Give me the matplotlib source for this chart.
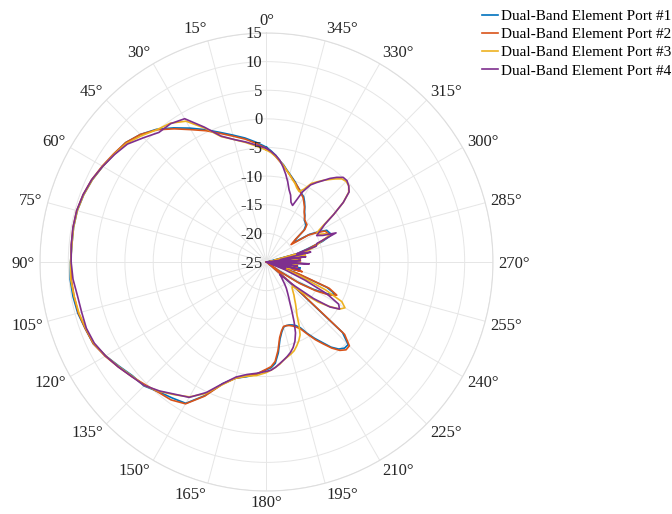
import numpy as np
import matplotlib
matplotlib.use("Agg")
import matplotlib.pyplot as plt

plt.rcParams['font.family'] = ['Liberation Serif', 'DejaVu Serif']

# Angles (degrees): 0..175 every 5, 180..357.5 every 2.5
angles_left = list(range(0, 180, 5))
angles_right = [180 + 2.5 * i for i in range(72)]

port1_left = [-4.95, -4.0, -3.0, -2.05, -0.9, 0.5, 2.0, 3.6, 5.25, 6.5, 7.45, 7.85,
              8.4, 8.95, 9.35, 9.6, 9.6, 9.5, 9.6, 9.8, 9.7, 9.5, 9.05, 8.75,
              7.8, 6.75, 5.9, 5.6, 4.6, 4.0, 3.5, 0.75, -2.4, -4.0, -4.65, -5.3]
port1_right = [-6.2, -6.5, -7.25, -9.0, -11.3, -12.5, -13.25, -13.35,
               -13.3, -13.1, -12.75, -12.05, -10.6, -9.2, -7.85, -6.25, -5.15, -4.6, -4.6, -6.8,
               -21.5, -24.5, -22.5, -18.5, -15.5, -13, -11.5, -13.5, -19.5, -25, -19.5, -25,
               -19, -25, -20.5, -25, -19.5, -25, -20.5, -25, -19.5, -24.5, -19.5, -17.5,
               -14.5, -12.5, -12.8, -13, -14.5, -16, -19, -18.5,
               -16.35, -15.6, -15.3, -15.1, -14.45, -13.95, -13.2, -12.5, -11.85, -11.55, -11.1, -10.7,
               -10.15, -9.65, -9.1, -8.5, -7.75, -7.15, -6.3, -5.6]

port2_left = [-5.15, -4.2, -3.2, -2.25, -1.1, 0.3, 1.7, 3.4, 5.15, 6.5, 7.45, 7.95,
              8.5, 9.05, 9.45, 9.7, 9.7, 9.6, 9.5, 9.6, 9.5, 9.4, 9.05, 8.75,
              7.9, 6.95, 6.1, 5.3, 4.7, 4.4, 3.6, 0.85, -2.3, -4.0, -4.75, -5.4]
port2_right = [-6.3, -6.7, -7.55, -9.4, -11.6, -12.7, -13.35, -13.35,
               -13.2, -12.9, -12.45, -11.75, -10.4, -8.9, -7.55, -6.05, -4.85, -4.2, -4.3, -6.3,
               -20.5, -25, -22, -18, -15, -12.5, -11.3, -13, -19, -25, -18.5, -25,
               -19.5, -25, -21, -25, -20, -25, -19, -25, -20.5, -23.5, -19, -17,
               -15, -12.8, -13.1, -13.3, -14.7, -16.3, -19.7, -18.7,
               -16.15, -15.3, -15.2, -15.0, -14.55, -14.05, -13.3, -12.7, -12.05, -11.65, -11.2, -10.7,
               -10.25, -9.75, -9.2, -8.6, -7.85, -7.25, -6.5, -5.8]

port3_left = [-5.45, -4.7, -3.8, -2.85, -1.7, 0.8, 3.4, 4.6, 5.15, 6.2, 7.25, 7.85,
              8.4, 8.95, 9.35, 9.6, 9.6, 9.5, 9.6, 9.7, 9.5, 9.3, 8.95, 8.65,
              7.8, 6.85, 6.0, 5.5, 4.5, 3.3, 2.2, 0.35, -2.2, -4.0, -4.75, -5.1]
port3_right = [-5.7, -6.1, -6.55, -7.0, -7.6, -8.0, -8.35, -8.75,
               -9.4, -10.1, -10.95, -12.55, -14.2, -15.2, -16.05, -16.85, -17.45, -18.1, -18.6, -18.8,
               -16.5, -13.5, -11.5, -9.7, -9, -10, -13.5, -18.5, -22.5, -25, -20.5, -25,
               -20, -25, -19.5, -25, -19, -25, -19.5, -24.5, -18, -23.5, -17.5, -16,
               -15, -13, -13.3, -14.5, -14.7, -13.1, -10.5, -7.9,
               -6.05, -5.3, -5.1, -5.3, -6.05, -6.85, -7.6, -8.4, -9.15, -10.65, -11.4, -11.0,
               -10.35, -9.85, -9.2, -8.6, -7.85, -7.15, -6.5, -5.9]

port4_left = [-5.15, -4.5, -3.7, -2.85, -1.6, 1.0, 3.9, 4.5, 4.55, 5.7, 7.05, 7.75,
              8.4, 9.05, 9.45, 9.7, 9.7, 9.6, 9.5, 9.3, 8.9, 8.8, 8.85, 8.55,
              7.8, 6.95, 6.1, 5.5, 4.4, 3.2, 2.3, 0.15, -2.4, -4.2, -5.05, -5.5]
port4_right = [-5.9, -6.1, -6.55, -7.1, -7.6, -8.1, -8.65, -9.35,
               -10.3, -11.6, -13.45, -15.25, -16.7, -17.7, -18.55, -19.25, -20.05, -20.8, -21.3, -21.8,
               -18.5, -14.5, -11.3, -9.7, -10.3, -13, -17.5, -21.5, -25, -21.5, -25, -19,
               -25, -19.5, -25, -17.5, -25, -19, -24.5, -18, -22.5, -17, -19.5, -15.8,
               -15.5, -11.7, -14, -15, -14, -12.8, -10.5, -7.9,
               -5.95, -5.3, -4.9, -4.95, -5.7, -6.6, -7.65, -8.55, -9.45, -11.15, -14.1, -13.7,
               -12.55, -11.75, -10.5, -9.3, -8.15, -7.05, -6.3, -5.7]

series_names = ["Dual-Band Element Port #1", "Dual-Band Element Port #2",
                "Dual-Band Element Port #3", "Dual-Band Element Port #4"]
series_colors = ["#0072BD", "#D95319", "#EDB120", "#7E2F8E"]

r_ticks = [-25, -20, -15, -10, -5, 0, 5, 10, 15]
theta_ticks = list(range(0, 360, 15))
theta_labels = [f"{t}°" for t in theta_ticks]

FS = 12
fig = plt.figure(figsize=(6.72, 5.14), dpi=100)
ax = fig.add_axes([0.0595, 0.0447, 0.6741, 0.8911], projection='polar')
ax.set_aspect('auto')
ax.set_theta_zero_location('N')
ax.set_theta_direction(1)

angles_all = np.array(angles_left + angles_right + [360.0])
theta = np.deg2rad(angles_all)
all_series = [(port1_left, port1_right), (port2_left, port2_right),
              (port3_left, port3_right), (port4_left, port4_right)]
for (lft, rgt), name, col in zip(all_series, series_names, series_colors):
    vals = np.array(lft + rgt + [lft[0]], dtype=float)
    vals = np.clip(vals, -25, 15)
    ax.plot(theta, vals, color=col, lw=1.2, label=name)

ax.set_ylim(-25, 15)
ax.set_yticks(r_ticks)
ax.set_yticklabels([])
ax.set_xticks(np.deg2rad(theta_ticks))
ax.set_xticklabels([])
ax.tick_params(axis='both', length=0)
ax.grid(True, color='#e6e6e6', lw=0.7)
ax.spines['polar'].set_color('#dedede')
ax.spines['polar'].set_linewidth(0.8)

# angular labels: anchored just outside the outer ring, left/right aligned
px2pt = 72.0 / 100.0
cap_half = 0.33 * FS
gap_pt = 5 * px2pt
for t, lab in zip(theta_ticks, theta_labels):
    a = np.deg2rad(t)
    s, c = np.sin(a), np.cos(a)
    if abs(s) < 1e-6:
        ha = 'center'
    elif s > 0:
        ha = 'right'
    else:
        ha = 'left'
    shift_px = 8.5 * c if c > 0 else 5.5 * c
    ox = -s * gap_pt
    oy = c * gap_pt + shift_px * px2pt - cap_half
    ax.annotate(lab, xy=(a, 15), xycoords='data', xytext=(ox, oy),
                textcoords='offset points', ha=ha, va='baseline',
                fontsize=FS, color='#262626', annotation_clip=False)

for rv in r_ticks:
    ax.annotate(str(rv), xy=(0, rv), xycoords='data', xytext=(-3, -cap_half),
                textcoords='offset points', ha='right', va='baseline',
                fontsize=FS, color='#262626', annotation_clip=False)

fig.legend(loc='upper right', bbox_to_anchor=(1.012, 1.0), frameon=False,
           fontsize=11, handlelength=1.1, handletextpad=0.15, labelspacing=0.3,
           borderaxespad=0.4, borderpad=0.2)

fig.savefig('out.png', dpi=100)
